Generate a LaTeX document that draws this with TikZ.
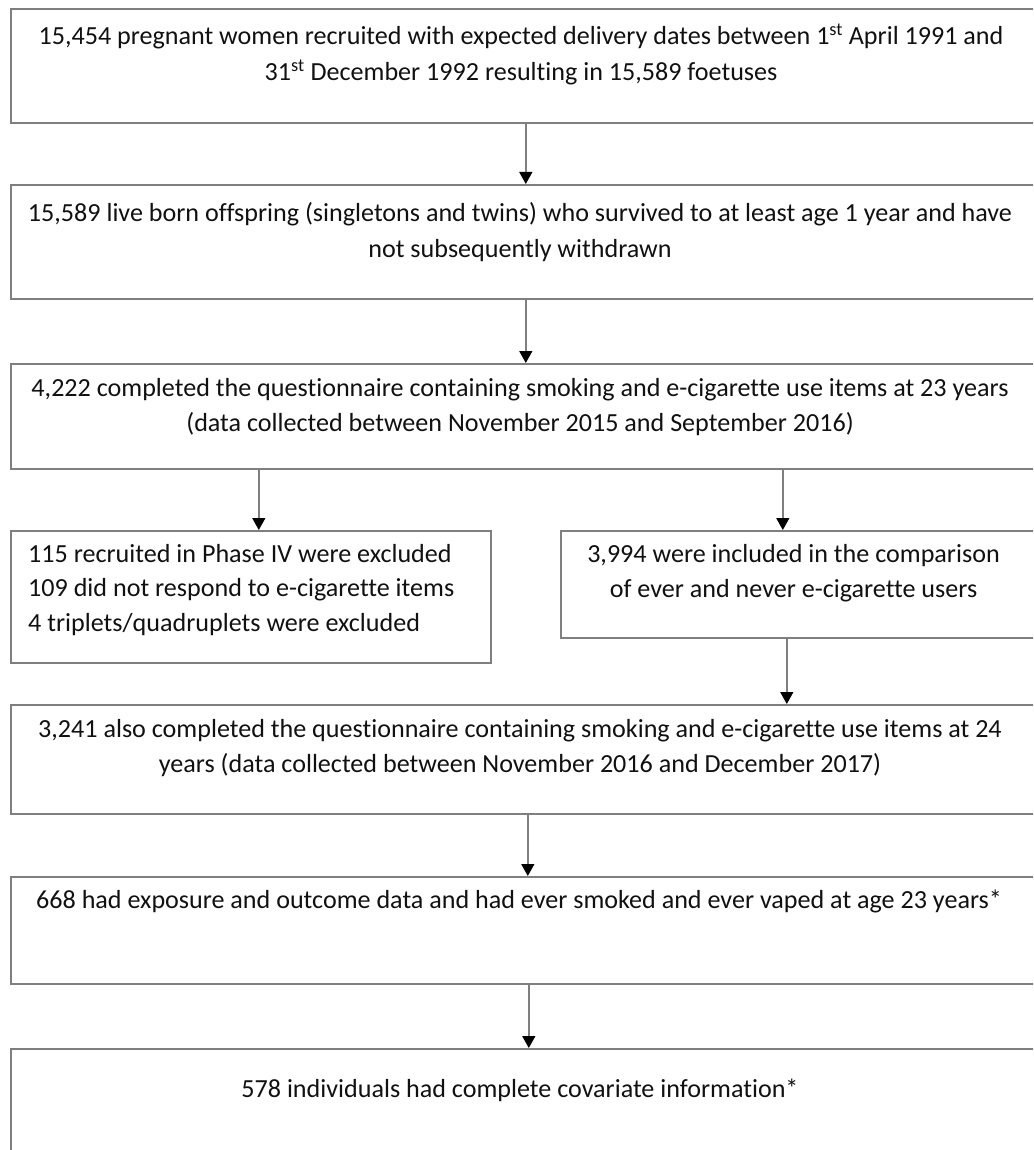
\documentclass[tikz,border=0pt]{standalone}
\usepackage{fontspec}
\setmainfont{Carlito}[Ligatures=NoCommon]
\usetikzlibrary{arrows.meta}
\definecolor{boxgray}{HTML}{7F7F7F}
\definecolor{txt}{HTML}{111111}
\begin{document}
\begin{tikzpicture}[x=1pt,y=-1pt,
  box/.style={draw=boxgray,line width=1.6pt,rectangle,inner sep=0pt,anchor=north west},
  lbl/.style={anchor=base,inner sep=0pt,text=txt,font=\fontsize{26.1}{34}\selectfont},
  lbll/.style={lbl,anchor=base west},
  conn/.style={draw=boxgray,line width=1.4pt,-{Triangle[width=13pt,length=12pt,color=black,fill=black]}}]
\clip (0,0) rectangle (1033,1150);
\fill[white] (0,0) rectangle (1033,1150);
% boxes
\node[box,minimum width=1026pt,minimum height=114pt] (b1) at (10,8) {};
\node[box,minimum width=1026pt,minimum height=114pt] (b2) at (10,184) {};
\node[box,minimum width=1026pt,minimum height=105pt] (b3) at (10,363) {};
\node[box,minimum width=480pt,minimum height=132pt] (bl) at (10,530) {};
\node[box,minimum width=476pt,minimum height=107pt] (br) at (560,530) {};
\node[box,minimum width=1026pt,minimum height=109pt] (b4) at (10,704) {};
\node[box,minimum width=1026pt,minimum height=107pt] (b5) at (10,876) {};
\node[box,minimum width=1026pt,minimum height=120pt] (b6) at (10,1048) {};
% texts
\node[lbl] (t1a) at (521,45) {15,454 pregnant women recruited with expected delivery dates between 1\textsuperscript{st} April 1991 and};
\node[lbl] (t1b) at (521,81) {31\textsuperscript{st} December 1992 resulting in 15,589 foetuses};
\node[lbl] (t2a) at (520,222) {15,589 live born offspring (singletons and twins) who survived to at least age 1 year and have};
\node[lbl] (t2b) at (520,258) {not subsequently withdrawn};
\node[lbl] (t3a) at (520,396) {4,222 completed the questionnaire containing smoking and e-cigarette use items at 23 years};
\node[lbl] (t3b) at (520,431) {(data collected between November 2015 and September 2016)};
\node[lbll] (tla) at (28,562) {115 recruited in Phase IV were excluded};
\node[lbll] (tlb) at (28,596.5) {109 did not respond to e-cigarette items};
\node[lbll] (tlc) at (28,631) {4 triplets/quadruplets were excluded};
\node[lbl] (tra) at (793.5,562) {3,994 were included in the comparison};
\node[lbl] (trb) at (793.5,597) {of ever and never e-cigarette users};
\node[lbl] (t4a) at (520,737) {3,241 also completed the questionnaire containing smoking and e-cigarette use items at 24};
\node[lbl] (t4b) at (520,772) {years (data collected between November 2016 and December 2017)};
\node[lbl] (t5a) at (519,908) {668 had exposure and outcome data and had ever smoked and ever vaped at age 23 years*};
\node[lbl] (t6a) at (520,1097) {578 individuals had complete covariate information*};
% connectors
\draw[conn] ([xshift=2pt]b1.south) -- ([xshift=2pt]b2.north);
\draw[conn] ([xshift=2pt]b2.south) -- ([xshift=2pt]b3.north);
\draw[conn] ([xshift=-265pt]b3.south) -- ([xshift=8pt]bl.north);
\draw[conn] ([xshift=259pt]b3.south) -- ([xshift=-16pt]br.north);
\draw[conn] ([xshift=-12pt]br.south) -- ([xshift=263pt]b4.north);
\draw[conn] ([xshift=4pt]b4.south) -- ([xshift=4pt]b5.north);
\draw[conn] ([xshift=5pt]b5.south) -- ([xshift=5pt]b6.north);
\end{tikzpicture}
\end{document}
